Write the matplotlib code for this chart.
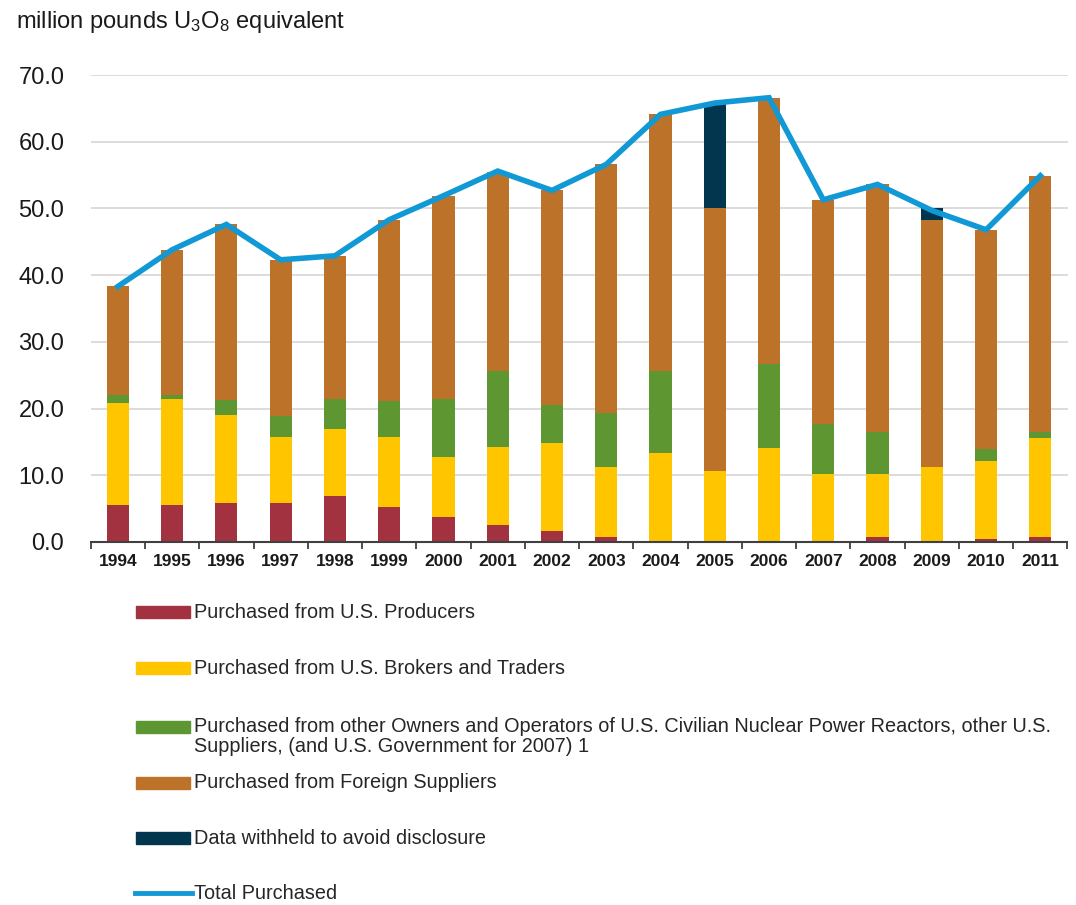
import numpy as np
import matplotlib
matplotlib.use("Agg")
import matplotlib.pyplot as plt
from matplotlib.patches import Rectangle
from matplotlib.lines import Line2D

plt.rcParams['font.family'] = ['Liberation Sans', 'DejaVu Sans']
plt.rcParams['mathtext.fontset'] = 'custom'
plt.rcParams['mathtext.rm'] = 'Liberation Sans'
plt.rcParams['mathtext.default'] = 'regular'

# data (million pounds U3O8 equivalent)
years = [str(y) for y in range(1994, 2012)]
producers = [5.6, 5.6, 5.9, 5.9, 6.9, 5.3, 3.8, 2.6, 1.7, 0.8, 0.0, 0.0, 0.0, 0.0, 0.7, 0.0, 0.4, 0.7]
brokers = [15.3, 15.9, 13.2, 9.9, 10.1, 10.5, 9.0, 11.7, 13.2, 10.5, 13.4, 10.7, 14.1, 10.2, 9.5, 11.3, 11.8, 14.9]
other_us = [1.2, 0.6, 2.2, 3.1, 4.5, 5.4, 8.7, 11.4, 5.7, 8.1, 12.3, 0.0, 12.6, 7.5, 6.3, 0.0, 1.8, 0.9]
foreign = [16.2, 21.7, 26.3, 23.4, 21.4, 27.1, 30.4, 29.7, 32.1, 37.3, 38.5, 39.4, 39.8, 33.6, 37.1, 37.0, 32.8, 38.4]
withheld = [0, 0, 0, 0, 0, 0, 0, 0, 0, 0, 0, 15.7, 0, 0, 0, 1.7, 0, 0]
total = [38.3, 43.8, 47.6, 42.3, 42.9, 48.3, 51.9, 55.6, 52.7, 56.6, 64.1, 65.8, 66.6, 51.3, 53.6, 49.7, 46.8, 54.9]

labels = ["Purchased from U.S. Producers",
          "Purchased from U.S. Brokers and Traders",
          "Purchased from other Owners and Operators of U.S. Civilian Nuclear Power Reactors, other U.S.\n"
          "Suppliers, (and U.S. Government for 2007) 1",
          "Purchased from Foreign Suppliers",
          "Data withheld to avoid disclosure",
          "Total Purchased"]
colors = ["#A33240", "#FFC600", "#5E9732", "#BD722A", "#02364F"]
line_color = "#1199D6"

W, H = 1076, 905
fig = plt.figure(figsize=(W / 100, H / 100), dpi=100)
ax = fig.add_axes([90.7 / W, 1 - 542 / H, (1067.5 - 90.7) / W, (542 - 75) / H])

x = np.arange(len(years))
width = 0.41
bottom = np.zeros(len(years))
for vals, c in zip([producers, brokers, other_us, foreign, withheld], colors):
    ax.bar(x, vals, width=width, bottom=bottom, color=c, zorder=2)
    bottom += np.array(vals)
ax.plot(x, total, color=line_color, lw=4, zorder=3, solid_joinstyle='miter')

ax.set_xlim(-0.5, len(years) - 0.5)
ax.set_ylim(0, 70)
ax.set_yticks(np.arange(0, 71, 10))
ax.set_yticklabels([f"{v:.1f}" for v in np.arange(0, 71, 10)], fontsize=17, color="#1a1a1a")
ax.tick_params(axis='y', length=0, pad=19)
ax.yaxis.grid(True, color="#d9d9d9", lw=1.3, zorder=0)
ax.set_axisbelow(True)

# tick marks between categories, labels under bars
ax.set_xticks(np.arange(-0.5, len(years), 1))
ax.set_xticklabels([])
ax.tick_params(axis='x', which='major', length=5, width=1.3, color="#404040", direction='out')
ax.set_xticks(x, minor=True)
ax.set_xticklabels(years, minor=True, fontsize=12.5, fontweight='bold', color="#1a1a1a")
ax.tick_params(axis='x', which='minor', length=0, pad=9)

for s in ['left', 'right', 'top']:
    ax.spines[s].set_visible(False)
ax.spines['bottom'].set_color("#404040")
ax.spines['bottom'].set_linewidth(1.5)

fig.text(16 / W, 1 - 22 / H, "million pounds U$_3$O$_8$ equivalent", fontsize=17,
         color="#1a1a1a", va='center', ha='left')

# legend below the plot
rows = [612, 668, 727, 782.5, 838, 893]
for i, (lab, yy) in enumerate(zip(labels, rows)):
    fy = 1 - yy / H
    if i < 5:
        fig.add_artist(Rectangle((136 / W, fy - 6 / H), 54 / W, 12 / H,
                                 color=colors[i], transform=fig.transFigure))
    else:
        fig.add_artist(Line2D([135 / W, 192 / W], [fy, fy], color=line_color, lw=3.5,
                              transform=fig.transFigure))
    if "\n" in lab:
        fig.text(194 / W, fy + 10 / H, lab, fontsize=14.3, color="#262626",
                 va='top', ha='left', linespacing=1.05)
    else:
        fig.text(194 / W, fy, lab, fontsize=14.3, color="#262626", va='center', ha='left')

fig.savefig("out.png", dpi=100)
